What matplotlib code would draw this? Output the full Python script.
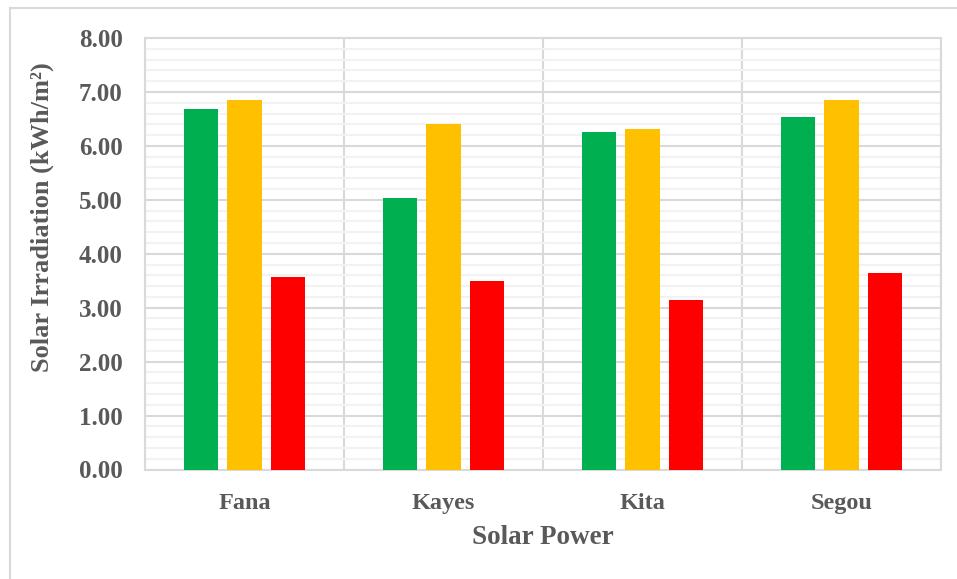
import matplotlib
matplotlib.use("Agg")
import matplotlib.pyplot as plt
import numpy as np
from matplotlib.lines import Line2D
from matplotlib.ticker import MultipleLocator, FormatStrFormatter

# Data
sites = ["Fana", "Kayes", "Kita", "Segou"]
series1 = [6.68, 5.03, 6.25, 6.54]
series2 = [6.85, 6.41, 6.31, 6.85]
series3 = [3.57, 3.49, 3.14, 3.65]
y_ticks = [0, 1, 2, 3, 4, 5, 6, 7, 8]

colors = ["#00B050", "#FFC000", "#FF0000"]
text_color = "#595959"
major_grid = "#D9D9D9"
minor_grid = "#F2F2F2"

plt.rcParams["font.family"] = ["Liberation Serif", "DejaVu Serif"]
plt.rcParams["font.weight"] = "bold"

W, H = 957, 579
fig = plt.figure(figsize=(W / 100, H / 100), dpi=100)
ax = fig.add_axes([145 / W, 1 - 469.5 / H, (941 - 145) / W, (469.5 - 38) / H])

x = np.arange(len(sites))
bar_w = 0.171
step = 0.221
for i, (vals, c) in enumerate(zip([series1, series2, series3], colors)):
    ax.bar(x + (i - 1) * step, vals, width=bar_w, color=c, zorder=3)

ax.set_xlim(-0.5, len(sites) - 0.5)
ax.set_ylim(0, 8)
ax.set_yticks(y_ticks)
ax.yaxis.set_major_formatter(FormatStrFormatter("%.2f"))
ax.yaxis.set_minor_locator(MultipleLocator(0.2))
ax.set_xticks(x)
ax.set_xticklabels(sites)
ax.set_xticks(np.arange(-0.5, len(sites)), minor=True)

ax.grid(axis="y", which="minor", color=minor_grid, linewidth=1.5, zorder=0)
ax.grid(axis="y", which="major", color=major_grid, linewidth=1.5, zorder=1)
ax.grid(axis="x", which="minor", color=major_grid, linewidth=1.5, zorder=1)
ax.grid(axis="x", which="major", visible=False)

for s in ax.spines.values():
    s.set_color(major_grid)
    s.set_linewidth(1.5)

ax.tick_params(axis="both", which="both", length=0)
ax.tick_params(axis="y", labelsize=18, labelcolor=text_color, pad=16)
ax.tick_params(axis="x", labelsize=17.5, labelcolor=text_color, pad=17)
for lbl in ax.get_xticklabels() + ax.get_yticklabels():
    lbl.set_fontweight("bold")

fig.text(543 / W, 1 - 538 / H, "Solar Power", ha="center", va="center",
         fontsize=19.5, fontweight="bold", color=text_color)
fig.text(42 / W, 1 - 217 / H, "Solar Irradiation (kWh/m²)", ha="center", va="center",
         rotation=90, fontsize=19, fontweight="bold", color=text_color)

# Chart area border (left and top edges)
fig.add_artist(Line2D([10 / W, 10 / W], [0, 1 - 8 / H], transform=fig.transFigure,
                      color=major_grid, linewidth=1.5))
fig.add_artist(Line2D([10 / W, 1], [1 - 8 / H, 1 - 8 / H], transform=fig.transFigure,
                      color=major_grid, linewidth=1.5))

fig.savefig("out.png", dpi=100, facecolor="white")
